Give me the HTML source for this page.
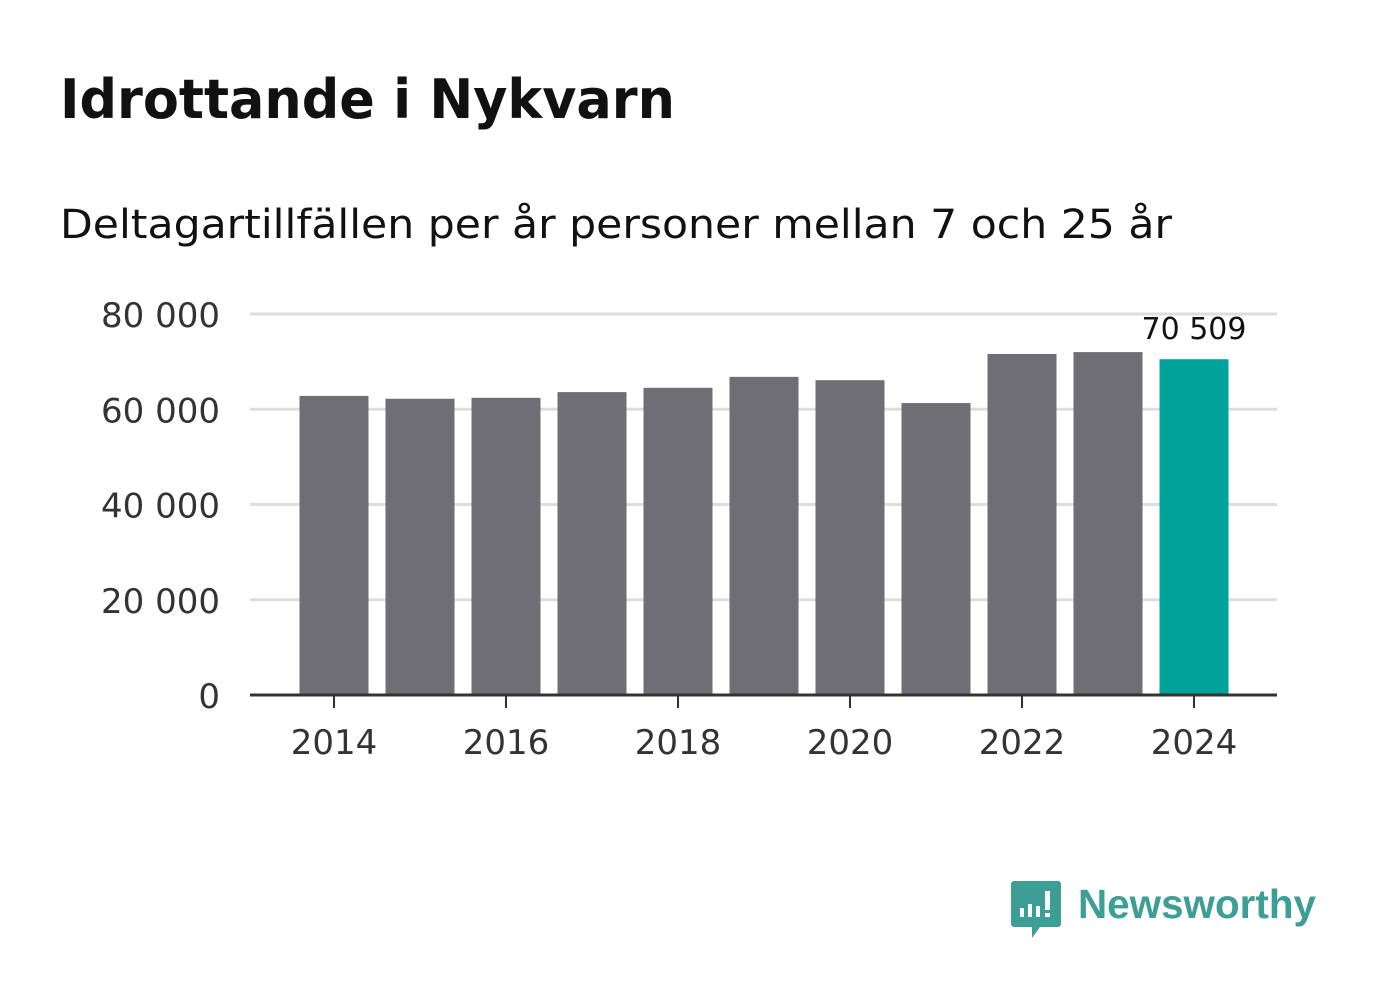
<!DOCTYPE html>
<html><head><meta charset="utf-8"><style>
body{margin:0;width:1382px;height:999px;background:#fff;font-family:"DejaVu Sans","Liberation Sans",sans-serif;overflow:hidden}
</style></head><body>
<svg width="1382" height="999">
<text x="60" y="118" font-size="54" font-weight="bold" fill="#111" textLength="615" lengthAdjust="spacingAndGlyphs" font-family="DejaVu Sans, sans-serif">Idrottande i Nykvarn</text>
<text x="60" y="238" font-size="40" fill="#111" textLength="1112" lengthAdjust="spacingAndGlyphs" font-family="DejaVu Sans, sans-serif">Deltagartillfällen per år personer mellan 7 och 25 år</text>
<g id="grid"></g>
<g id="bars"></g>
<g id="axes"></g>
<g>
<path d="M1014 881 h44 a3 3 0 0 1 3 3 v40 a3 3 0 0 1 -3 3 h-18 l-8 11 v-11 h-18 a3 3 0 0 1 -3 -3 v-40 a3 3 0 0 1 3 -3z" fill="#3d9e96"/>
<rect x="1020" y="908" width="4" height="9" fill="#fff"/><rect x="1028" y="904" width="4" height="13" fill="#fff"/><rect x="1036" y="906" width="4" height="11" fill="#fff"/><rect x="1045" y="891" width="5" height="19" fill="#fff"/><rect x="1045" y="913" width="5" height="4" fill="#fff"/>
<text x="1078" y="918" font-size="41" font-weight="bold" fill="#3d9e96" textLength="238" lengthAdjust="spacingAndGlyphs" font-family="Liberation Sans, sans-serif">Newsworthy</text>
</g>
</svg>
<script>
const years=[2014,2015,2016,2017,2018,2019,2020,2021,2022,2023,2024];
const values=[62800,62200,62400,63600,64500,66800,66100,61300,71600,72000,70509];
const yTicks=[0,20000,40000,60000,80000];
const yTickLabels=["0","20 000","40 000","60 000","80 000"];
const xTickYears=[2014,2016,2018,2020,2022,2024];
const NS="http://www.w3.org/2000/svg";
const y=v=>695-v*381/80000;
const x=yr=>334+(yr-2014)*86;
function mk(t,a,p){const e=document.createElementNS(NS,t);for(const k in a)e.setAttribute(k,a[k]);p.appendChild(e);return e;}
const g=document.getElementById('grid'),b=document.getElementById('bars'),ax=document.getElementById('axes');
yTicks.forEach((t,i)=>{
 if(t>0){const l=mk('line',{x1:250,x2:1277,y1:y(t),y2:y(t),stroke:'#ddd','stroke-width':3},g);
 
 }
 const tx=mk('text',{x:220,y:y(t)+13,'font-size':34,fill:'#333','text-anchor':'end'},ax);
 tx.textContent=yTickLabels[i];
 
 
});
years.forEach((yr,i)=>{
 const r=mk('rect',{x:x(yr)-34.5,y:y(values[i]),width:69,height:695-y(values[i]),fill:i==years.length-1?'#00a39a':'#6f6e74'},b);
 
 
});
const li=years.length-1;
const lab=mk('text',{x:x(years[li]),y:y(values[li])-20,'font-size':30,fill:'#111','text-anchor':'middle'},ax);
lab.textContent=values[li].toString().replace(/\B(?=(\d{3})+(?!\d))/g,' ');


const axl=mk('line',{x1:250,x2:1277,y1:695,y2:695,stroke:'#333','stroke-width':3},ax);


xTickYears.forEach(yr=>{
 const t=mk('line',{x1:x(yr),x2:x(yr),y1:695,y2:708,stroke:'#333','stroke-width':2},ax);
 
 
 const tx=mk('text',{x:x(yr),y:754,'font-size':34,fill:'#333','text-anchor':'middle'},ax);
 tx.textContent=yr;
 
 
});
</script>
</body></html>
